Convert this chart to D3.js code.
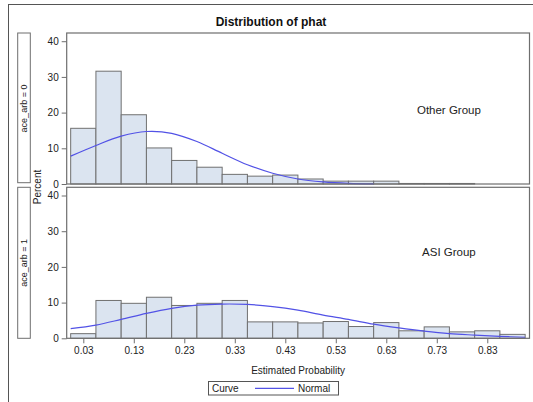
<!DOCTYPE html>
<html><head><meta charset="utf-8">
<script src="https://cdn.jsdelivr.net/npm/d3@7"></script>
<style>body{margin:0;background:#fff}svg{display:block;font-family:"Liberation Sans",Arial,sans-serif}</style>
</head><body>
<svg id="c" width="533" height="402"></svg>
<script>
const title = "Distribution of phat";
const binCenters = [0.03,0.08,0.13,0.18,0.23,0.28,0.33,0.38,0.43,0.48,0.53,0.58,0.63,0.68,0.73,0.78,0.83,0.88];
const binWidth = 0.05;
const otherPct = [15.6,31.6,19.4,10.1,6.6,4.7,2.7,2.2,2.5,1.4,0.8,0.8,0.8,0.15,0.15,0.15,0,0];
const asiPct   = [1.3,10.6,9.8,11.5,9.2,9.8,10.6,4.6,4.6,4.3,4.7,3.3,4.4,2.1,3.2,1.8,2.1,1.1];
const otherCurveX = [0.005,0.055,0.105,0.155,0.205,0.255,0.305,0.355,0.405,0.455,0.505,0.555,0.605];
const otherCurveY = [7.8,10.8,13.4,14.7,14.2,11.9,8.6,5.4,3.0,1.4,0.6,0.2,0.05];
const asiCurveX = [0.005,0.055,0.105,0.155,0.205,0.255,0.305,0.355,0.405,0.455,0.505,0.555,0.605,0.655,0.705,0.755,0.805,0.855,0.905];
const asiCurveY = [2.7,3.7,5.3,7.0,8.4,9.3,9.6,9.5,8.9,7.9,6.5,5.3,3.95,2.9,2.0,1.3,0.9,0.55,0.3];
const xTicks = [0.03,0.13,0.23,0.33,0.43,0.53,0.63,0.73,0.83];
const yTicks = [0,10,20,30,40];
const panelLabels = ["ace_arb = 0","ace_arb = 1"];
const groupLabels = ["Other Group","ASI Group"];
const xLabel = "Estimated Probability";
const yLabel = "Percent";
const legendTitle = "Curve", legendItem = "Normal";

const svg = d3.select("#c");
const frameCol = "#6e6e6e", textCol = "#222", barFill = "#dbe4f0", barStroke = "#707070", curveCol = "#5252e6";

// outer frame
svg.append("rect").attr("x",8.5).attr("y",4.5).attr("width",540).attr("height",420)
  .attr("fill","none").attr("stroke","#555");

svg.append("text").attr("x",271).attr("y",25.5).attr("text-anchor","middle")
  .attr("font-size",12).attr("font-weight","bold").attr("fill","#111").text(title);

const px0 = 66.7, px1 = 529.5;
const x = d3.scaleLinear().domain([-0.00287, 0.9136]).range([px0, px1]);
const panels = [
  {top:33, bottom:184, vals:otherPct, cx:otherCurveX, cy:otherCurveY, label:panelLabels[0], grp:groupLabels[0], gy:20.7},
  {top:187.3, bottom:338.3, vals:asiPct, cx:asiCurveX, cy:asiCurveY, label:panelLabels[1], grp:groupLabels[1], gy:24.2}
];

panels.forEach((p,i)=>{
  const y = d3.scaleLinear().domain([0,42.3]).range([p.bottom,p.top]);
  const g = svg.append("g");
  // strip
  svg.append("rect").attr("x",17.7).attr("y",p.top).attr("width",12.6).attr("height",p.bottom-p.top-(i===0?1.3:0))
    .attr("fill","#fff").attr("stroke",frameCol);
  svg.append("text").attr("transform",`translate(27.3,${(p.top+p.bottom)/2}) rotate(-90)`)
    .attr("text-anchor","middle").attr("font-size",9).attr("fill",textCol).text(p.label);
  // bars
  g.selectAll("rect.bar").data(binCenters.map((c,j)=>({c, v:p.vals[j]})).filter(d=>d.v>0))
    .join("rect").attr("class","bar")
    .attr("x",d=>x(d.c-binWidth/2)).attr("width",d=>x(d.c+binWidth/2)-x(d.c-binWidth/2))
    .attr("y",d=>y(d.v)).attr("height",d=>y(0)-y(d.v))
    .attr("fill",barFill).attr("stroke",barStroke).attr("stroke-width",1);
  // curve
  const line = d3.line().x(d=>x(d[0])).y(d=>y(d[1])).curve(d3.curveCatmullRom);
  g.append("path").attr("d",line(p.cx.map((v,j)=>[v,p.cy[j]])))
    .attr("fill","none").attr("stroke",curveCol).attr("stroke-width",1.2);
  // frame
  svg.append("rect").attr("x",px0).attr("y",p.top).attr("width",px1-px0).attr("height",p.bottom-p.top)
    .attr("fill","none").attr("stroke",frameCol).attr("stroke-width",1.2);
  // y axis
  const ya = svg.append("g").attr("transform",`translate(${px0},0)`)
    .call(d3.axisLeft(y).tickValues(yTicks).tickSize(5).tickPadding(3));
  ya.select(".domain").remove();
  ya.selectAll("line").attr("stroke",frameCol);
  ya.selectAll("text").attr("font-size",10).attr("fill",textCol).attr("font-family","Liberation Sans, Arial, sans-serif");
  // group label
  svg.append("text").attr("x",x(0.754)).attr("y",y(p.gy)+4).attr("text-anchor","middle")
    .attr("font-size",11.5).attr("fill",textCol).text(p.grp);
  if(i===1){
    const xa = svg.append("g").attr("transform",`translate(0,${p.bottom})`)
      .call(d3.axisBottom(x).tickValues(xTicks).tickFormat(d3.format(".2f")).tickSize(5).tickPadding(4));
    xa.select(".domain").remove();
    xa.selectAll("line").attr("stroke",frameCol);
    xa.selectAll("text").attr("font-size",10).attr("fill",textCol).attr("font-family","Liberation Sans, Arial, sans-serif");
  }
});

svg.append("text").attr("transform","translate(40.5,187) rotate(-90)").attr("text-anchor","middle")
  .attr("font-size",10).attr("fill",textCol).text(yLabel);
svg.append("text").attr("x",(px0+px1)/2).attr("y",374).attr("text-anchor","middle")
  .attr("font-size",10).attr("fill",textCol).text(xLabel);

// legend
const lg = svg.append("g");
lg.append("rect").attr("x",208.5).attr("y",381.5).attr("width",130).attr("height",13.5)
  .attr("fill","#fff").attr("stroke","#555");
lg.append("text").attr("x",212).attr("y",392).attr("font-size",10).attr("fill",textCol).text(legendTitle);
lg.append("line").attr("x1",255).attr("x2",294).attr("y1",388.3).attr("y2",388.3).attr("stroke",curveCol).attr("stroke-width",1.2);
lg.append("text").attr("x",298).attr("y",392).attr("font-size",10).attr("fill",textCol).text(legendItem);
</script>
</body></html>
